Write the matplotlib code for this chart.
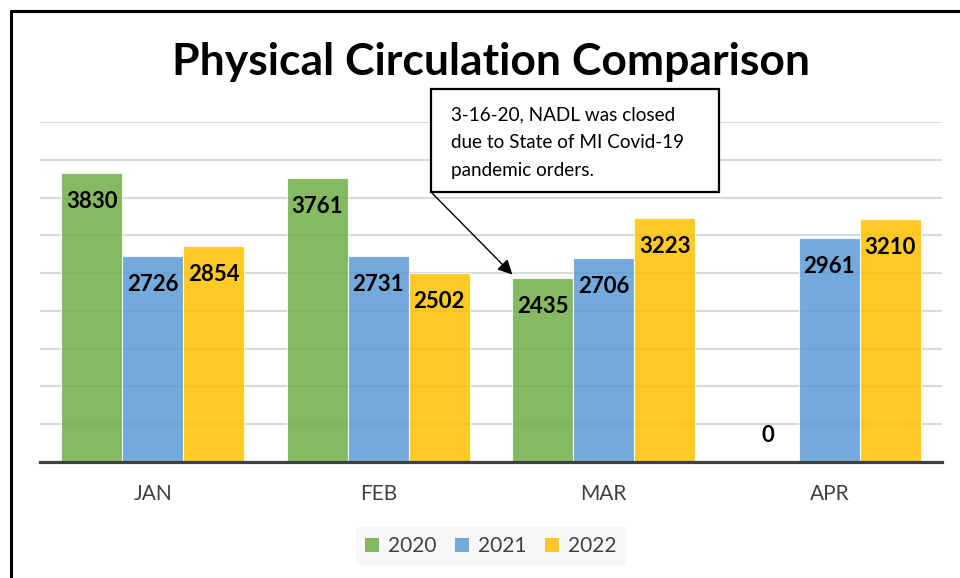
import matplotlib
matplotlib.use("Agg")
import matplotlib.pyplot as plt
from matplotlib.patches import Rectangle
from matplotlib.lines import Line2D
import numpy as np

plt.rcParams['font.family'] = ['Lato', 'DejaVu Sans']

months = ["JAN", "FEB", "MAR", "APR"]
years = ["2020", "2021", "2022"]
v2020 = [3830, 3761, 2435, 0]
v2021 = [2726, 2731, 2706, 2961]
v2022 = [2854, 2502, 3223, 3210]
series = [v2020, v2021, v2022]
colors = ["#70AD47", "#5B9BD5", "#FFC000"]
note_lines = ["3-16-20, NADL was closed", "due to State of MI Covid-19", "pandemic orders."]
title = "Physical Circulation Comparison"

W, H = 960, 578
fig = plt.figure(figsize=(W / 100, H / 100), dpi=100)
fig.patch.set_facecolor("white")

def fx(px):
    return px / W

def fy(py):
    return 1 - py / H

ax = fig.add_axes([fx(40), fy(462), fx(942) - fx(40), fy(122) - fy(462)])
x = np.arange(len(months))
w = 0.27
for i, (vals, c, yr) in enumerate(zip(series, colors, years)):
    pos = x + (i - 1) * w
    bars = ax.bar(pos, vals, width=w, color=c, alpha=0.85, edgecolor="white",
                  linewidth=0.8, label=yr, zorder=2)
    for b, v in zip(bars, vals):
        off = -20.5 if v > 0 else 19
        ax.annotate(str(v), (b.get_x() + b.get_width() / 2, v), xytext=(0, off),
                    textcoords="offset points", ha="center", va="center",
                    fontsize=16, fontweight="bold", color="black", zorder=5)

ax.set_xlim(-0.5, len(months) - 0.5)
ax.set_ylim(0, 4500)
ax.set_yticks(np.arange(500, 4501, 500))
ax.yaxis.grid(True, color="#D9D9D9", linewidth=1.5)
ax.set_axisbelow(True)
ax.tick_params(axis="y", left=False, labelleft=False)
ax.set_xticks(x)
ax.set_xticklabels(months, fontsize=15, color="#404040")
ax.tick_params(axis="x", length=0, pad=16)
for s in ["top", "right", "left"]:
    ax.spines[s].set_visible(False)
ax.spines["bottom"].set_color("#404040")
ax.spines["bottom"].set_linewidth(2.3)
ax.spines["bottom"].set_zorder(4)
ax.set_facecolor("none")

# Title
fig.text(fx(491), fy(75), title, ha="center", va="baseline", fontsize=32,
         fontweight="bold", color="black")

# Annotation box
fig.patches.append(Rectangle((fx(431), fy(192)), fx(719) - fx(431), fy(89) - fy(192),
                             transform=fig.transFigure, facecolor="white",
                             edgecolor="black", linewidth=1.6, zorder=10))
for ly, line in zip([115, 142, 170], note_lines):
    fig.text(fx(451), fy(ly), line, ha="left", va="center", fontsize=13.6,
             color="black", zorder=11)

ax.annotate("", xy=(2 - 1.5 * w, 2435 + 45), xycoords="data",
            xytext=(fx(432), fy(193)), textcoords="figure fraction",
            arrowprops=dict(arrowstyle="-|>", color="black", lw=1.0,
                            mutation_scale=22, shrinkA=0, shrinkB=0),
            zorder=12, annotation_clip=False)

# Legend
leg = fig.legend(loc="center", bbox_to_anchor=(fx(491), fy(546)), ncol=3,
                 frameon=True, fontsize=15, handlelength=0.65, handleheight=0.65,
                 handletextpad=0.45, columnspacing=0.9, borderpad=0.45,
                 borderaxespad=0, fancybox=False)
leg.get_frame().set_facecolor("#F5F5F5")
leg.get_frame().set_edgecolor("none")
for t in leg.get_texts():
    t.set_color("#404040")
for h in leg.legend_handles:
    h.set_alpha(0.85)
    h.set_edgecolor("none")

# Outer frame (left and top edges)
fig.add_artist(Line2D([fx(10.5), fx(10.5), fx(960)], [fy(578), fy(11), fy(11)],
                      color="black", linewidth=2.2, transform=fig.transFigure))

fig.savefig("out.png", dpi=100)
